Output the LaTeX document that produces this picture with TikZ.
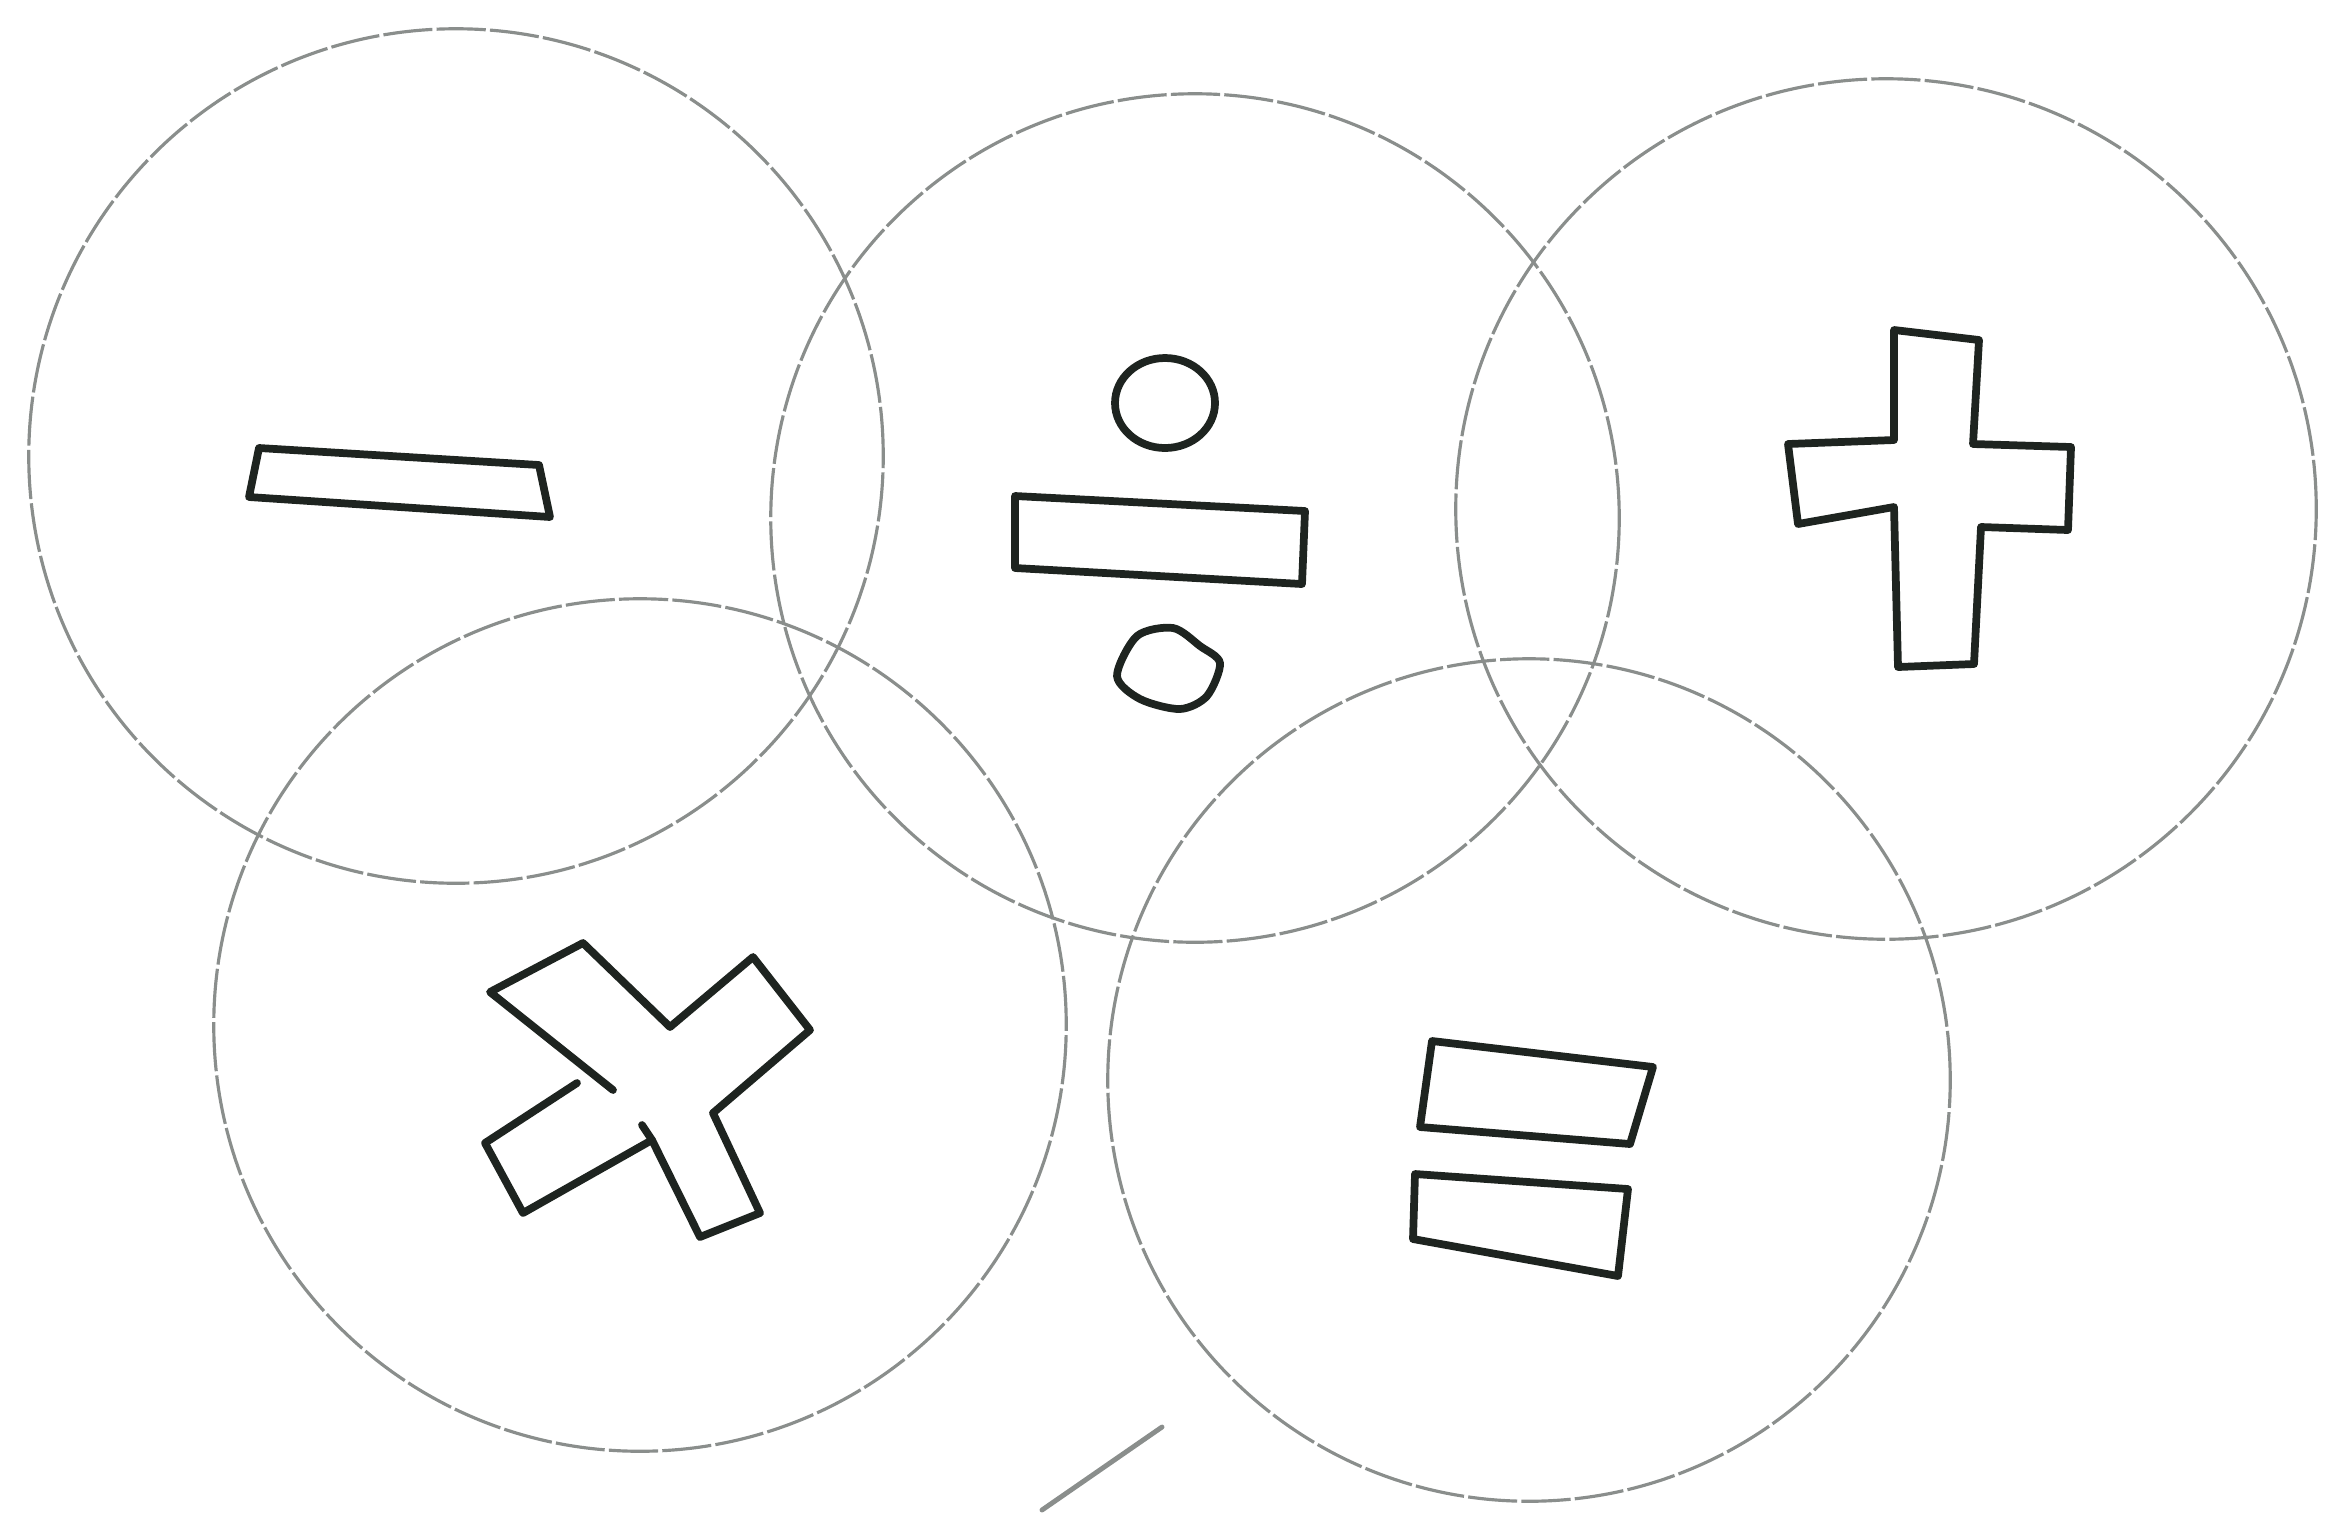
\documentclass[tikz,border=0pt]{standalone}
\usepackage{tikz}
\usetikzlibrary{shapes.geometric}
\definecolor{pencil}{HTML}{8A8E8C}
\definecolor{ink}{HTML}{1E2420}

\begin{document}
\begin{tikzpicture}[x=0.01cm, y=-0.01cm,
    ring/.style={circle, draw=pencil, line width=0.9pt, dash pattern=on 14pt off 1.2pt, inner sep=0pt},
    glyph/.style={draw=ink, line width=2.2pt, line join=round, line cap=round}]
    \useasboundingbox (0,0) rectangle (2327,1517);

    \node[ring, minimum size=8.54cm] (ringminus) at (456,456) {};
    \node[ring, minimum size=8.48cm] (ringdiv)   at (1195,518) {};
    \node[ring, minimum size=8.60cm] (ringplus)  at (1886,509) {};
    \node[ring, minimum size=8.52cm] (ringtimes) at (640,1025) {};
    \node[ring, minimum size=8.42cm] (ringeq)    at (1529,1080) {};

    % minus
    \draw[glyph] (259,448) -- (539,465) -- (550,517) -- (249,497) -- cycle;

    % divide
    \draw[glyph] (1165,403) ellipse [x radius=50, y radius=45];
    \draw[glyph] (1015,496) -- (1305,511) -- (1302,584) -- (1015,568) -- cycle;
    \draw[glyph] plot[smooth cycle] coordinates {(1117,676) (1137,636) (1173,628) (1200,646)
        (1220,663) (1207,696) (1180,709) (1140,699)};

    % plus
    \draw[glyph] (1894,330) -- (1979,340) -- (1973,444) -- (2071,447) -- (2068,530)
        -- (1981,527) -- (1974,664) -- (1898,667) -- (1894,507) -- (1798,524)
        -- (1788,444) -- (1894,440) -- cycle;

    % times
    \draw[glyph] (577,1083) -- (485,1143) -- (523,1213) -- (652,1140) -- (700,1237)
        -- (760,1213) -- (713,1113) -- (810,1030) -- (753,957) -- (670,1027)
        -- (583,943) -- (490,992) -- (613,1090);
    \draw[glyph] (642,1125) -- (652,1140);

    % equals
    \draw[glyph] (1432,1041) -- (1653,1067) -- (1630,1144) -- (1420,1127) -- cycle;
    \draw[glyph] (1415,1174) -- (1628,1189) -- (1618,1276) -- (1413,1239) -- cycle;

    \draw[pencil, line width=1.4pt, line cap=round] (1042,1510) -- (1162,1427);
\end{tikzpicture}
\end{document}
